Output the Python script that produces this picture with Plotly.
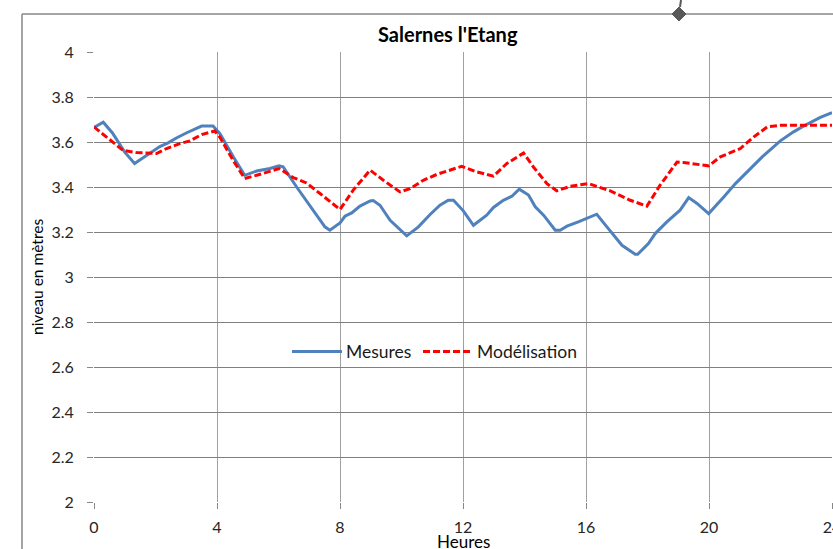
import plotly.graph_objects as go

# ---- data ----
mes_h = [0, 0.3, 0.6, 1.0, 1.32, 1.7, 2.14, 2.41, 2.68, 3.0, 3.5, 3.87, 4.09, 4.53, 4.9,
         5.29, 5.72, 6.02, 6.15, 6.59, 7.02, 7.29, 7.51, 7.67, 8.0, 8.16, 8.38, 8.65, 8.98,
         9.08, 9.3, 9.63, 9.84, 10.17, 10.55, 10.93, 11.25, 11.52, 11.69, 12.01, 12.34,
         12.77, 12.99, 13.31, 13.59, 13.83, 14.13, 14.35, 14.62, 15.0, 15.16, 15.38, 15.75,
         16.14, 16.35, 16.68, 17.17, 17.6, 17.68, 18.03, 18.25, 18.63, 19.06, 19.34, 19.61,
         19.99, 20.2, 20.48, 20.86, 21.24, 21.45, 21.73, 22.32, 22.75, 23.03, 23.41, 23.62, 24.0]
mes_v = [3.665, 3.688, 3.64, 3.555, 3.504, 3.54, 3.58, 3.596, 3.618, 3.64, 3.671, 3.671,
         3.638, 3.534, 3.452, 3.471, 3.482, 3.494, 3.49, 3.40, 3.319, 3.267, 3.223, 3.208,
         3.24, 3.27, 3.285, 3.315, 3.338, 3.34, 3.319, 3.252, 3.226, 3.183, 3.223, 3.278,
         3.319, 3.341, 3.341, 3.294, 3.23, 3.275, 3.309, 3.341, 3.359, 3.39, 3.364, 3.312,
         3.275, 3.208, 3.208, 3.226, 3.245, 3.267, 3.279, 3.223, 3.141, 3.101, 3.101, 3.149,
         3.193, 3.245, 3.297, 3.353, 3.327, 3.282, 3.312, 3.356, 3.415, 3.467, 3.492, 3.534,
         3.605, 3.645, 3.667, 3.694, 3.709, 3.731]

mod_h = [0, 0.4, 0.94, 1.38, 2.03, 2.36, 2.79, 3.12, 3.5, 3.93, 4.09, 4.52, 4.9, 5.29, 5.66,
         6.02, 6.48, 6.91, 7.35, 8.0, 8.43, 8.98, 9.41, 9.95, 10.28, 10.71, 11.15, 11.58,
         11.96, 12.45, 12.99, 13.42, 13.97, 14.29, 14.73, 15.05, 15.49, 16.08, 16.79, 17.44,
         17.98, 18.41, 18.96, 19.17, 19.61, 19.99, 20.37, 21.02, 21.45, 21.89, 22.32, 24.0]
mod_v = [3.667, 3.622, 3.563, 3.553, 3.549, 3.571, 3.593, 3.605, 3.633, 3.649, 3.622, 3.519,
         3.438, 3.452, 3.467, 3.482, 3.442, 3.418, 3.371, 3.30, 3.386, 3.475, 3.43, 3.378,
         3.393, 3.43, 3.456, 3.475, 3.492, 3.467, 3.448, 3.504, 3.551, 3.489, 3.415, 3.383,
         3.403, 3.415, 3.383, 3.341, 3.315, 3.408, 3.511, 3.509, 3.501, 3.494, 3.534, 3.571,
         3.622, 3.667, 3.674, 3.674]

x_ticks = [0, 4, 8, 12, 16, 20, 24]
y_ticks = [2, 2.2, 2.4, 2.6, 2.8, 3, 3.2, 3.4, 3.6, 3.8, 4]
y_tick_labels = ["2", "2.2", "2.4", "2.6", "2.8", "3", "3.2", "3.4", "3.6", "3.8", "4"]

title_text = "Salernes l'Etang"
x_title = "Heures"
y_title = "niveau en mètres"
names = ["Mesures", "Modélisation"]

# ---- layout geometry ----
W, H = 833, 549
ML, MR, MT, MB = 94, 1, 52, 47
PW, PH = W - ML - MR, H - MT - MB
FONT = "Lato, 'Noto Sans', sans-serif"
BLUE = "#4F81BD"
RED = "#FF0000"
GRID = "#878787"


def px(x):
    return (x - ML) / PW


def py(y):
    return (H - MB - y) / PH


fig = go.Figure()
fig.add_trace(go.Scatter(x=mes_h, y=mes_v, mode="lines", name=names[0],
                         line=dict(color=BLUE, width=3), showlegend=False))
fig.add_trace(go.Scatter(x=mod_h, y=mod_v, mode="lines", name=names[1],
                         line=dict(color=RED, width=3, dash="7px,3px"), showlegend=False))

shapes = [
    # outer chart border (left and top)
    dict(type="line", xref="paper", yref="paper", x0=px(22), x1=px(22), y0=py(H + 2), y1=py(14),
         line=dict(color=GRID, width=1.5)),
    dict(type="line", xref="paper", yref="paper", x0=px(22), x1=px(W + 2), y0=py(14), y1=py(14),
         line=dict(color=GRID, width=1.5)),
    # small connector with diamond end
    dict(type="line", xref="paper", yref="paper", x0=px(681), x1=px(680), y0=py(0), y1=py(7),
         line=dict(color="#595959", width=2)),
    dict(type="path", xref="paper", yref="paper",
         path="M{},{} L{},{} L{},{} L{},{} Z".format(px(679), py(7), px(686), py(14),
                                                   px(679), py(21), px(672), py(14)),
         fillcolor="#595959", line=dict(color="#595959", width=1)),
    # legend samples
    dict(type="line", xref="paper", yref="paper", x0=px(292), x1=px(342), y0=py(351.5), y1=py(351.5),
         line=dict(color=BLUE, width=3)),
    dict(type="line", xref="paper", yref="paper", x0=px(423), x1=px(473), y0=py(351.5), y1=py(351.5),
         line=dict(color=RED, width=3, dash="7px,3px")),
]

annotations = [
    dict(text="<b>" + title_text + "</b>", xref="paper", yref="paper", x=px(448), y=py(34),
         xanchor="center", yanchor="middle", showarrow=False,
         font=dict(family=FONT, size=20, color="#000000")),
    dict(text=y_title, xref="paper", yref="paper", x=px(37), y=py(277), textangle=-90,
         xanchor="center", yanchor="middle", showarrow=False,
         font=dict(family=FONT, size=15.5, color="#000000")),
    dict(text=x_title, xref="paper", yref="paper", x=px(463), y=py(541.5),
         xanchor="center", yanchor="middle", showarrow=False,
         font=dict(family=FONT, size=17, color="#000000")),
    dict(text=names[0], xref="paper", yref="paper", x=px(344), y=py(351.5),
         xanchor="left", yanchor="middle", showarrow=False,
         font=dict(family=FONT, size=17.5, color="#1a1a1a")),
    dict(text=names[1], xref="paper", yref="paper", x=px(475), y=py(351.5),
         xanchor="left", yanchor="middle", showarrow=False,
         font=dict(family=FONT, size=17.5, color="#1a1a1a")),
]

fig.update_layout(
    width=W, height=H,
    margin=dict(l=ML, r=MR, t=MT, b=MB, pad=0),
    paper_bgcolor="white", plot_bgcolor="white",
    font=dict(family=FONT, size=16, color="#262626"),
    shapes=shapes, annotations=annotations,
    showlegend=False,
)
fig.update_xaxes(range=[0, 24], tickvals=x_ticks, ticktext=[str(v) for v in x_ticks],
                 showgrid=True, gridcolor="#a0a0a0", gridwidth=1.3, zeroline=False,
                 ticks="outside", ticklen=6, tickcolor=GRID, tickwidth=1,
                 ticklabelstandoff=5, ticklabeloverflow="allow", showline=False,
                 automargin=False,
                 tickfont=dict(family=FONT, size=16, color="#262626"))
fig.update_yaxes(range=[2, 4], tickvals=y_ticks, ticktext=y_tick_labels,
                 showgrid=True, gridcolor="#7f7f7f", gridwidth=1, zeroline=False,
                 ticks="outside", ticklen=6, tickcolor=GRID, tickwidth=1,
                 ticklabelstandoff=10, showline=False, automargin=False,
                 tickfont=dict(family=FONT, size=16, color="#262626"))

fig.write_html("out.html",
               config={"displayModeBar": False},
               post_script="document.body.style.margin='0';document.body.style.overflow='hidden';")
